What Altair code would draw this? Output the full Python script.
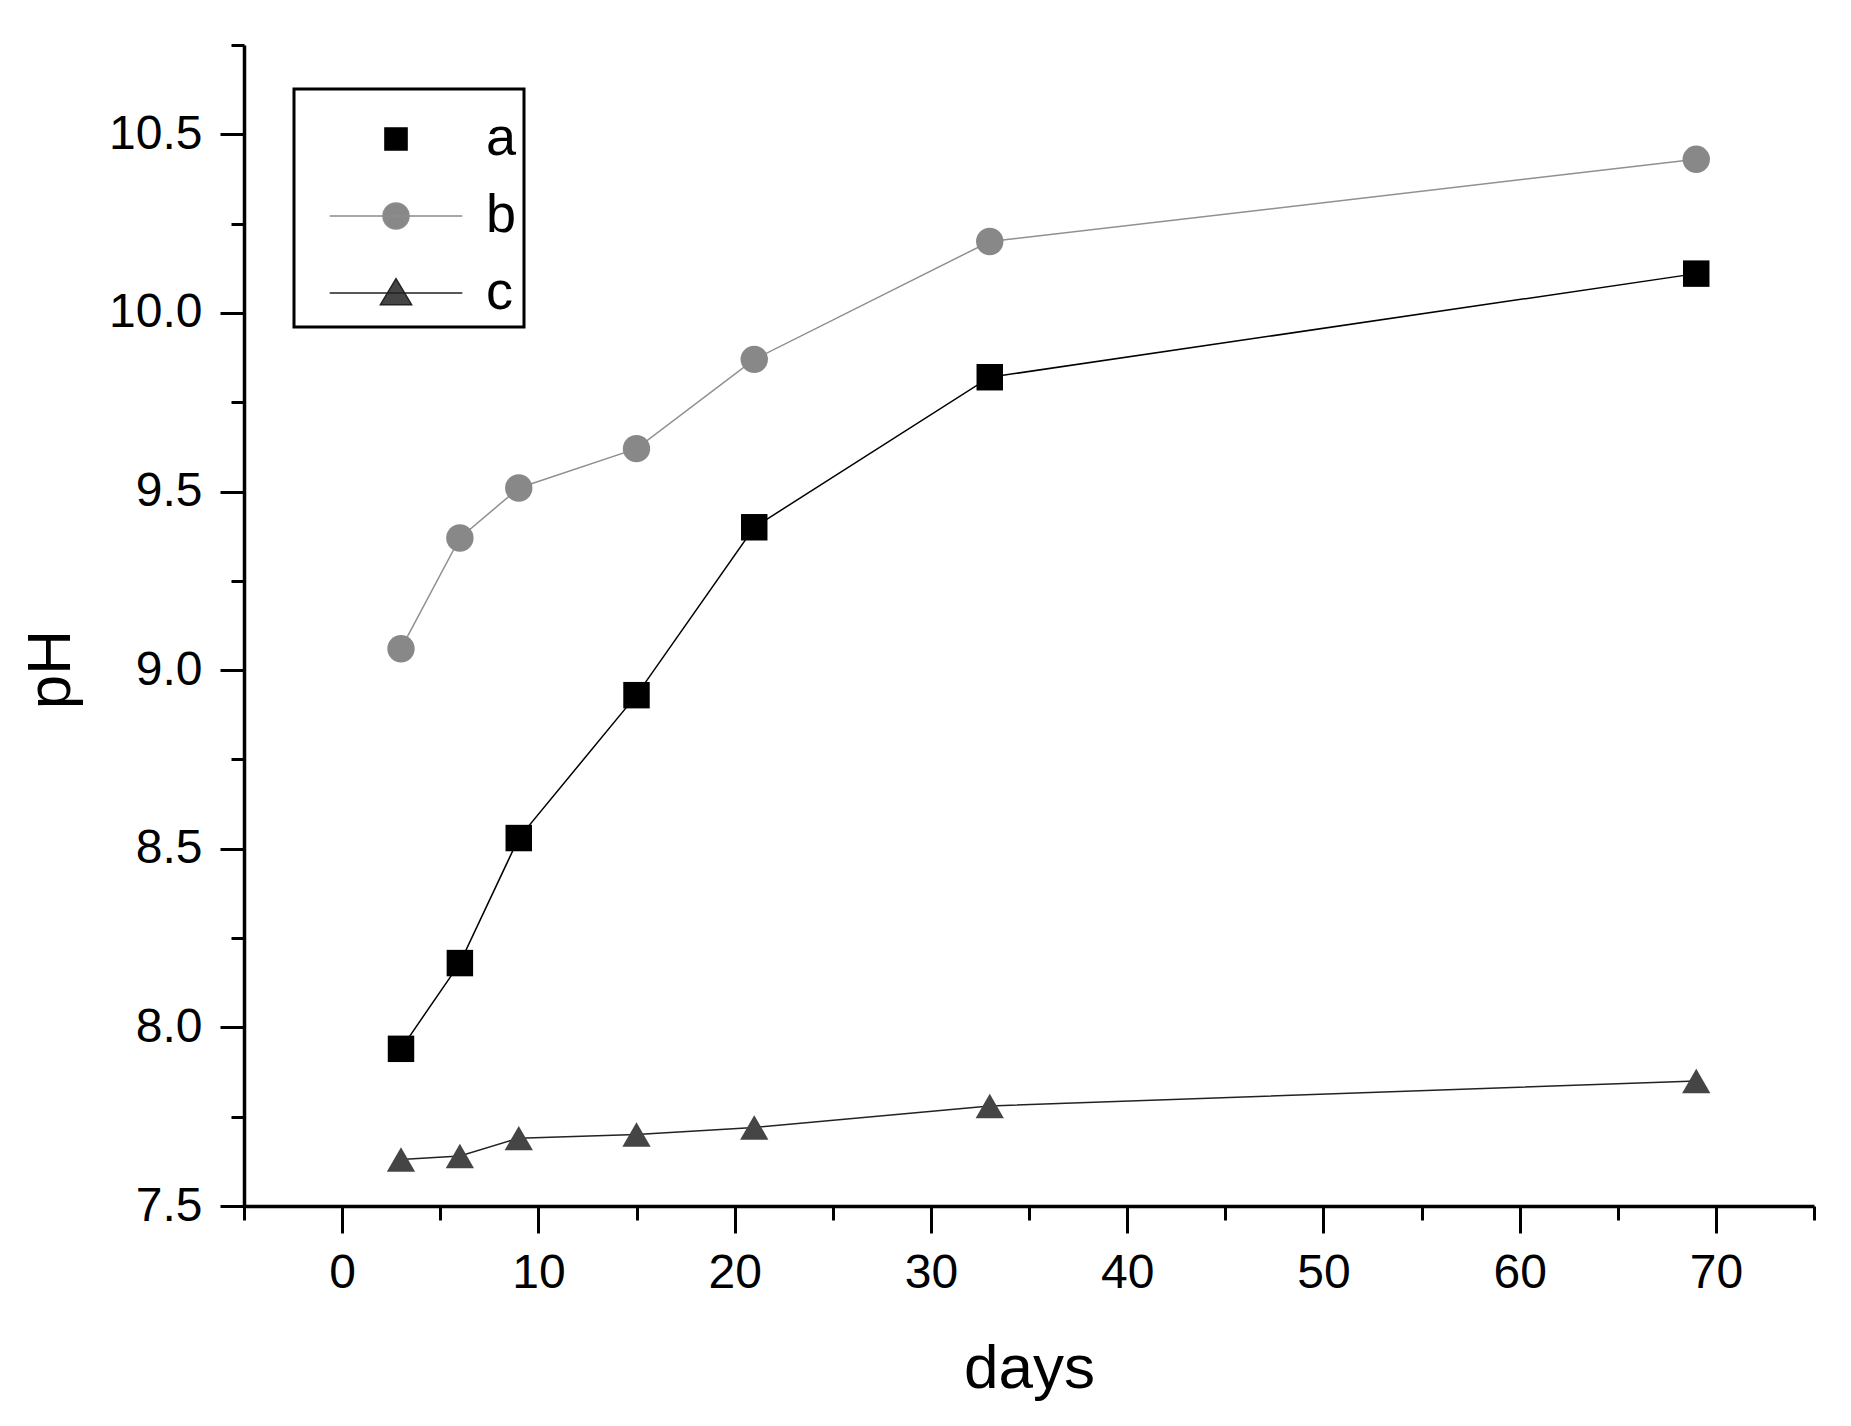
import altair as alt
import pandas as pd

# ---- data ----
days = [3, 6, 9, 15, 21, 33, 69]
ph_a = [7.94, 8.18, 8.53, 8.93, 9.40, 9.82, 10.11]
ph_b = [9.06, 9.37, 9.51, 9.62, 9.87, 10.20, 10.43]
ph_c = [7.63, 7.64, 7.69, 7.70, 7.72, 7.78, 7.85]
series = ["a", "b", "c"]

x_ticks = list(range(-5, 80, 5))
y_ticks = [7.5 + 0.25 * i for i in range(14)]

rows = []
for name, vals in zip(series, [ph_a, ph_b, ph_c]):
    for d, v in zip(days, vals):
        rows.append({"days": d, "pH": v, "series": name})
df = pd.DataFrame(rows)

line_colors = ["#000000", "#909090", "#222222"]
fill_colors = ["#000000", "#888888", "#454545"]
stroke_colors = ["#000000", "#8c8c8c", "#222222"]
marker_shapes = ["square", "circle", "triangle-up"]
marker_sizes = [700, 800, 1000]
legend_paths = [
    "M-0.85,-0.85H0.85V0.85H-0.85Z",
    "M-5.1,0H5.1M-1,0A1,1 0 1,0 1,0A1,1 0 1,0 -1,0Z",
    "M-5.1,0H5.1M0,-1.1L1.2,0.9L-1.2,0.9Z",
]

FONT = "Liberation Sans"

x_enc = alt.X(
    "days:Q",
    scale=alt.Scale(domain=[-5, 75], nice=False, zero=False),
    axis=alt.Axis(
        title="days",
        values=x_ticks,
        format="d",
        labelExpr="datum.value % 10 === 0 ? datum.label : ''",
        tickSize={"condition": {"test": "datum.value % 10 === 0", "value": 27}, "value": 14},
        labelPadding=16,
        titleX=785,
        titleY=181,
        titleBaseline="alphabetic",
    ),
)
y_enc = alt.Y(
    "pH:Q",
    scale=alt.Scale(domain=[7.5, 10.75], nice=False, zero=False),
    axis=alt.Axis(
        title="pH",
        values=y_ticks,
        labelExpr="abs(datum.value*2 - round(datum.value*2)) < 1e-6 ? format(datum.value, '.1f') : ''",
        tickSize={"condition": {"test": "abs(datum.value*2 - round(datum.value*2)) < 1e-6", "value": 24}, "value": 13},
        labelPadding=18,
        titleX=-175,
        titleY=624,
        titleAngle=270,
        titleBaseline="alphabetic",
    ),
)

base = alt.Chart(df)

lines = base.mark_line(strokeWidth=1.5).encode(
    x=x_enc,
    y=y_enc,
    color=alt.Color("series:N", scale=alt.Scale(domain=series, range=line_colors), legend=None),
)

points = base.mark_point(filled=True, opacity=1).encode(
    x=x_enc,
    y=y_enc,
    shape=alt.Shape("series:N", scale=alt.Scale(domain=series, range=marker_shapes), legend=None),
    color=alt.Color("series:N", scale=alt.Scale(domain=series, range=fill_colors), legend=None),
    size=alt.Size("series:N", scale=alt.Scale(domain=series, range=marker_sizes), legend=None),
)

leg = alt.Legend(
    title=" ",
    titleFontSize=1,
    titlePadding=15,
    orient="none",
    legendX=50,
    legendY=44,
    padding=7,
    strokeColor="#000000",
    fillColor="#ffffff",
    symbolSize=676,
    symbolStrokeWidth=1.5,
    symbolOpacity=1,
    symbolOffset=68,
    labelOffset=63,
    labelFont=FONT,
    labelFontSize=54,
    labelColor="#000000",
    rowPadding=23,
)

# legend-only layer: no marks drawn (all rows filtered), scales have explicit domains
legend_layer = base.transform_filter("false").mark_point(filled=True, opacity=1).encode(
    x=x_enc,
    y=y_enc,
    shape=alt.Shape("series:N", scale=alt.Scale(domain=series, range=legend_paths), legend=leg),
    fill=alt.Fill("series:N", scale=alt.Scale(domain=series, range=fill_colors), legend=leg),
    stroke=alt.Stroke("series:N", scale=alt.Scale(domain=series, range=stroke_colors), legend=leg),
)

chart = (
    alt.layer(lines, points, legend_layer)
    .resolve_scale(color="independent", shape="independent", fill="independent", stroke="independent")
    .resolve_legend(color="independent", shape="independent", fill="independent", stroke="independent")
    .properties(
        width=1570,
        height=1161,
        autosize=alt.AutoSizeParams(type="none"),
        padding={"left": 236, "top": 37, "right": 20, "bottom": 200},
    )
    .configure_view(stroke=None)
    .configure_legend(strokeWidth=3)
    .configure_axis(
        grid=False,
        domainColor="#000000",
        domainWidth=3.5,
        tickColor="#000000",
        tickWidth=3,
        labelFont=FONT,
        labelFontSize=48,
        labelColor="#000000",
        titleFont=FONT,
        titleFontSize=62,
        titleFontWeight="normal",
        titleColor="#000000",
    )
)

chart.save("out.html", embed_options={"renderer": "svg", "actions": False})
